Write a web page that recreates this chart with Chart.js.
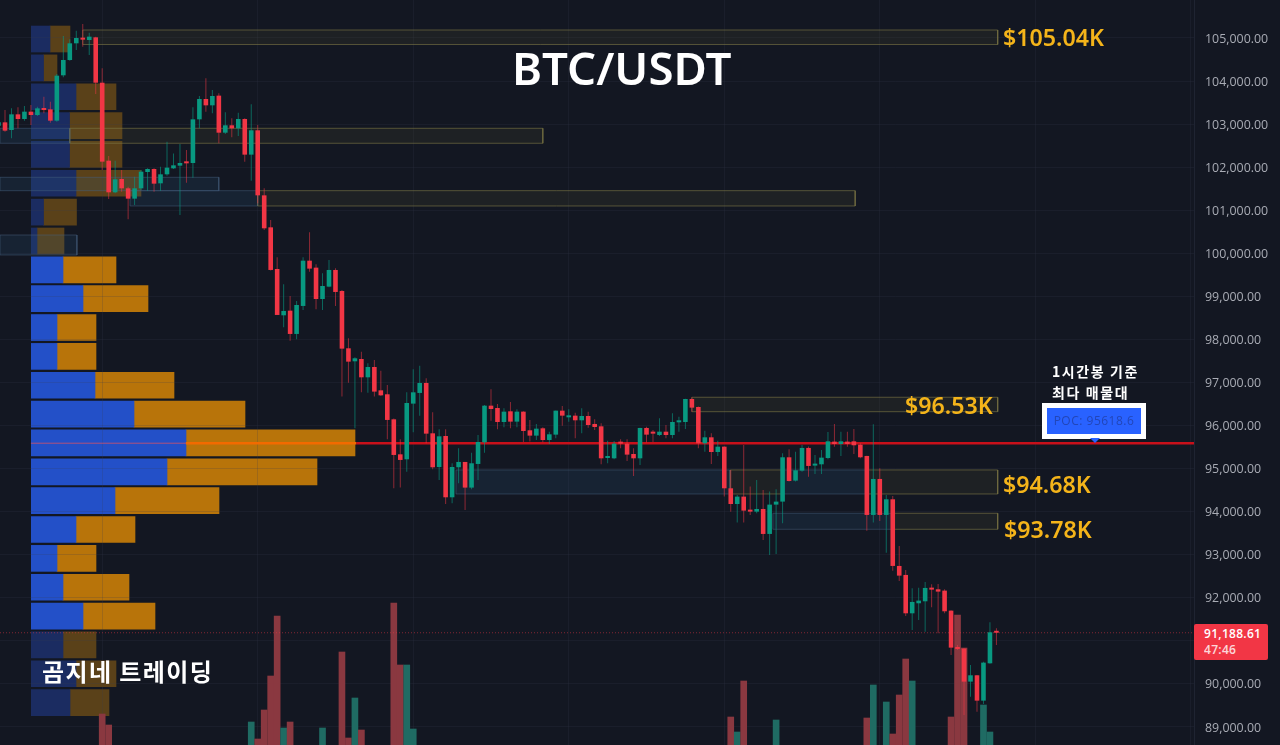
<!DOCTYPE html>
<html><head><meta charset="utf-8">
<script src="https://cdn.jsdelivr.net/npm/chart.js@4"></script>
<style>
html,body{margin:0;padding:0;background:#131722;overflow:hidden}
#wrap{position:relative;width:1280px;height:745px;background:#131722;overflow:hidden}
canvas{position:absolute;left:0;top:0}
.t{position:absolute;white-space:nowrap;line-height:1}
.title{left:512px;top:36px;color:#fff;font:600 45.6px "Noto Sans",sans-serif}
.gold{color:#f4b41a;font:600 23.2px "Noto Sans",sans-serif}
.note{color:#fff;font:600 14px "Noto Sans CJK KR",sans-serif;letter-spacing:1.6px}
.brand{left:42px;top:653px;color:#fff;font:600 24px "Noto Sans CJK KR",sans-serif;letter-spacing:1.4px}
#pocbox{position:absolute;left:1042px;top:403px;width:94px;height:26px;border:5px solid #fff;background:#2962ff;color:#2246b8;font:12px/26px "Open Sans",sans-serif;letter-spacing:.5px;text-align:center}
#poctri{position:absolute;left:1090px;top:438px;width:0;height:0;border-left:5px solid transparent;border-right:5px solid transparent;border-top:5px solid #2962ff}
#last{position:absolute;left:1194px;top:624px;width:74px;height:36px;background:#f23645;border-radius:2px;color:#fff;font:600 12px "Open Sans",sans-serif;letter-spacing:.3px}
#last div{position:absolute;left:10px;white-space:nowrap;line-height:1}
</style></head><body>
<div id="wrap">
<canvas id="profile" width="1280" height="745"></canvas>
<canvas id="main" width="1280" height="745"></canvas>
<div class="t title">BTC/USDT</div>
<div class="t gold" style="left:1003px;top:21px">$105.04K</div>
<div class="t gold" style="left:905px;top:389px">$96.53K</div>
<div class="t gold" style="left:1003px;top:468px">$94.68K</div>
<div class="t gold" style="left:1004px;top:513px">$93.78K</div>
<div class="t note" style="left:1052px;top:361px">1시간봉 기준</div>
<div class="t note" style="left:1052px;top:382px">최다 매물대</div>
<div id="pocbox">POC: 95618.6</div><div id="poctri"></div>
<div class="t brand">곰지네 트레이딩</div>
<div id="last"><div style="top:4px">91,188.61</div><div style="top:20px;opacity:.8">47:46</div></div>
</div>
<script>
const opens=[102964,103041,102863,103227,103119,103289,103212,103366,103343,103080,
104133,104489,104876,105000,104953,105015,103962,102151,101416,101726,
101509,101269,101509,101888,101958,101625,101834,101973,102035,102105,
102097,103111,103583,103436,103661,102801,102972,102902,103119,102291,
102856,101346,100603,99636,98560,98668,98127,98777,99829,99667,
98939,99226,99613,99125,97794,97492,97546,97120,97360,96818,
96726,96145,95332,95216,96509,96757,96989,95820,95038,95758,
94334,95031,95155,94559,95108,95611,96462,96408,96083,96331,
96091,96323,95890,95766,95936,95665,95789,96346,96191,96230,
96122,96222,96037,95982,95247,95239,95596,95580,95340,95239,
95944,95828,95781,95858,95781,96075,96083,96617,96431,95588,
95727,95386,95510,94543,94179,94350,94040,94001,94063,93483,
94164,94234,95263,94721,94953,95480,95070,95100,95247,95627,
95572,95627,95634,95557,95294,93924,94760,93924,94288,92740,
92531,91640,91873,91919,92229,92198,92167,91702,90843,90820,
90054,90201,89612,90479,91200];
const closes=[103041,102848,103227,103119,103289,103212,103366,103328,103080,104125,
104489,104876,105000,104961,105031,103962,102128,101416,101718,101509,
101269,101509,101896,101958,101617,101834,101989,102043,102097,102089,
103111,103583,103436,103653,102801,102972,102902,103119,102291,102856,
101346,100580,99613,98568,98661,98127,98800,99829,99644,98939,
99241,99613,99102,97786,97484,97562,97120,97360,96788,96702,
96130,95317,95201,96524,96772,96989,95812,95031,95750,94334,
95038,95155,94559,95124,95619,96462,96385,96083,96323,96091,
96323,95874,95766,95928,95665,95797,96346,96230,96207,96122,
96222,96013,95967,95239,95263,95580,95580,95325,95239,95944,
95789,95812,95858,95781,96083,96091,96617,96416,95588,95727,
95386,95510,94543,94179,94350,94025,94001,94063,93483,94164,
94234,95263,94713,94961,95480,95062,95108,95255,95634,95572,
95634,95572,95542,95263,93924,94760,93924,94288,92740,92515,
91640,91904,91935,92229,92190,92144,91687,90843,90812,90054,
90201,89612,90495,91199,91188];
const highs=[103096,103328,103366,103390,103421,103444,103405,103638,103521,104164,
105046,104969,105170,105325,105123,105031,104295,102260,102151,101935,
101548,101780,101935,101973,101973,102012,102592,102320,102538,102399,
103390,103653,104063,103792,103715,103273,103134,103266,103134,103459,
102980,101509,100774,99907,99280,99009,98893,99907,100487,99744,
99535,99845,99652,99148,98026,97585,97716,97446,97523,97275,
96942,96161,95681,96772,97306,97391,97097,96308,95913,95913,
95124,95472,95155,95371,95781,96480,96841,96501,96400,96548,
96377,96330,96130,96037,95959,95858,96350,96454,96377,96300,
96400,96323,96145,96052,95650,95642,95681,95681,95472,95950,
95975,95897,96168,96013,96284,96207,96620,96656,96440,95882,
95820,95650,95520,94969,94389,95549,94582,94737,94504,94466,
94520,95356,95449,95394,95549,95511,95317,95433,95851,96037,
95858,95858,95921,95588,95300,96029,95007,94389,94365,93204,
92647,92221,92236,92368,92314,92321,92198,91710,90905,90830,
90441,90210,90518,91431,91292];
const lows=[102902,102825,102670,102902,103080,102980,103188,103250,103034,103057,
104086,104473,104721,104798,104605,103700,101935,101261,101393,101432,
100789,101122,101470,101455,101432,101455,101803,101958,100890,101640,
101757,102902,103289,103250,102554,102771,102693,102724,102128,101687,
101161,100541,99600,99020,98281,97972,98003,98684,99574,98699,
98684,99210,98777,96672,96996,95936,96772,96764,96672,96687,
95681,94543,94559,94930,95843,96230,95588,94984,94736,94179,
94195,94659,94040,94520,94737,95371,96114,95913,95959,95936,
95959,95619,95627,95665,95611,95572,95704,95998,96091,95704,
95820,95951,95897,95100,95124,95216,95472,95178,94830,95085,
95604,95619,95758,95704,95704,95858,95921,96323,95472,95394,
95108,95294,94350,94001,93746,93746,93924,93962,93343,92995,
93018,93730,94698,94698,94930,94814,94876,94876,95216,95510,
95294,95510,95340,95239,93560,93746,93784,93049,92631,92391,
91578,91253,91486,91214,91780,91176,91640,90673,90789,89280,
89705,89357,89535,90470,90905];

const volumeIndex=[16,17,39,40,41,42,43,44,45,50,53,54,55,56,61,62,63,64,113,114,115,120,134,135,137,138,139,140,141,147,148,149,152,153];
const volumeValue=[310,200,230,60,350,690,1290,170,230,170,930,70,470,150,1420,800,800,160,280,130,640,250,270,600,430,110,500,860,640,280,1300,970,400,130];

const profilePrice=[104976,104306,103636,102966,102296,101626,100956,100286,99616,98946,98276,97606,96936,96266,95596,94926,94256,93586,92916,92246,91576,90906,90236,89566];
const profileBuy=[190,125,450,385,385,450,125,60,320,520,260,260,640,1030,1550,1360,840,450,260,320,520,320,450,390];
const profileSell=[200,135,400,525,525,650,330,270,530,650,390,390,790,1110,1690,1500,1040,590,390,660,720,330,400,390];
const valueAreaHigh=100000, valueAreaLow=91000;

const priceTicks=[89000,90000,91000,92000,93000,94000,95000,96000,97000,98000,99000,100000,101000,102000,103000,104000,105000];
const priceMin=88582, priceMax=105882;
const dayTicks=[16,40,64,88,112,136,160,184];
const xMin=0.228, xMax=184.49;
const lastPrice=91188.61, pocPrice=95590;

// zones: [from candle, to candle, upper price, lower price]
const yellowZones=[[13,154.2,105185,104849],[11,84,102903,102555],[40,132.2,101454,101099],[107,154.2,96657,96322],[112.9,121,94969,94411],[134,154.2,94969,94411],[138,154.2,93963,93591]];
const blueZones=[[xMin,11,102903,102555],[xMin,34,101765,101454],[20.3,40,101454,101099],[xMin,12.1,100425,99961],[70.6,112.9,94969,94411],[121,134,94969,94411],[119.5,138,93963,93591]];

const UP='#089981', DOWN='#f23645';
const GRID='rgba(54,60,78,.2)';
const idx=opens.map((_,i)=>i);

function zoneDs(z,border,fill){
  const [a,b,t,l]=z;
  return {type:'line',order:8,data:[{x:a,y:t},{x:b,y:t},{x:b,y:l},{x:a,y:l},{x:a,y:t}],
    borderColor:border,borderWidth:1,backgroundColor:fill,fill:'shape',pointRadius:0,tension:0};
}
function hLine(a,b,price,color,width,dash,order){
  return {type:'line',order:order,data:[{x:a,y:price},{x:b,y:price}],borderColor:color,borderWidth:width,borderDash:dash||[],pointRadius:0,fill:false};
}

new Chart(document.getElementById('profile'),{
  type:'bar',
  data:{datasets:[
    {label:'buy',data:profilePrice.map((p,i)=>({x:profileBuy[i],y:p})),barThickness:26,grouped:false,
     backgroundColor:c=>{const p=profilePrice[c.dataIndex];return (p>valueAreaHigh||p<valueAreaLow)?'#1b2c61':'#2350c8';}},
    {label:'sell',data:profilePrice.map((p,i)=>({x:profileSell[i],y:p})),barThickness:26,grouped:false,
     backgroundColor:c=>{const p=profilePrice[c.dataIndex];return (p>valueAreaHigh||p<valueAreaLow)?'#5a4119':'#b8740a';}}
  ]},
  options:{indexAxis:'y',responsive:false,animation:false,devicePixelRatio:1,
    layout:{padding:{left:31}},
    plugins:{legend:{display:false},tooltip:{enabled:false}},
    scales:{
      x:{type:'linear',display:false,stacked:true,min:0,max:12490},
      y:{type:'linear',display:false,min:priceMin,max:priceMax,offset:false}
    }}
});

new Chart(document.getElementById('main'),{
  type:'bar',
  data:{datasets:[
    ...yellowZones.map(z=>zoneDs(z,'rgba(125,120,70,.62)','rgba(105,100,55,.13)')),
    ...blueZones.map(z=>zoneDs(z,'rgba(70,95,125,.5)','rgba(50,95,135,.17)')),
    {type:'bar',order:7,yAxisID:'vol',grouped:false,barThickness:6,
     data:volumeIndex.map((i,k)=>({x:i,y:volumeValue[k]})),
     backgroundColor:volumeIndex.map(i=>closes[i]>=opens[i]?'#1f6b63':'#8a3840')},
    hLine(xMin,xMax,lastPrice,'rgba(242,54,69,.5)',1,[1,2],6),
    hLine(5,28.9,pocPrice,'#b0517a',1,null,5),
    hLine(28.9,55.2,pocPrice,'#f26a00',2.4,null,5),
    hLine(55.2,xMax,pocPrice,'#c8101a',2.4,null,5),
    {type:'bar',order:3,grouped:false,barThickness:1,inflateAmount:0,
     data:idx.map(i=>({x:i,y:[lows[i],highs[i]]})),
     backgroundColor:idx.map(i=>closes[i]>=opens[i]?'rgba(8,153,129,.62)':'rgba(242,54,69,.55)')},
    {type:'bar',order:2,grouped:false,barThickness:4.6,minBarLength:2,inflateAmount:0,
     data:idx.map(i=>({x:i,y:[opens[i],closes[i]]})),
     backgroundColor:idx.map(i=>closes[i]>=opens[i]?UP:DOWN)}
  ]},
  options:{responsive:false,animation:false,devicePixelRatio:1,
    layout:{padding:0},
    plugins:{legend:{display:false},tooltip:{enabled:false}},
    scales:{
      x:{type:'linear',min:xMin,max:xMax,offset:false,
        grid:{color:GRID,drawTicks:false,offset:false},border:{display:false},
        ticks:{display:false},
        afterBuildTicks:s=>{s.ticks=dayTicks.map(v=>({value:v}));},
        afterFit:s=>{s.height=0;s.paddingLeft=0;s.paddingRight=0;}},
      y:{type:'linear',position:'right',min:priceMin,max:priceMax,
        grid:{color:GRID,drawTicks:false},border:{display:true,color:'#1f2432'},
        afterBuildTicks:s=>{s.ticks=priceTicks.map(v=>({value:v}));},
        ticks:{padding:11,labelOffset:1,color:'#a9acb5',autoSkip:false,
          font:{family:'"Open Sans",sans-serif',size:12.4},
          callback:v=>Number(v).toLocaleString('en-US',{minimumFractionDigits:2,maximumFractionDigits:2})},
        afterFit:s=>{s.width=86;s.paddingTop=0;s.paddingBottom=0;}},
      vol:{type:'linear',display:false,min:0,max:7450}
    }}
});
</script>
</body></html>
